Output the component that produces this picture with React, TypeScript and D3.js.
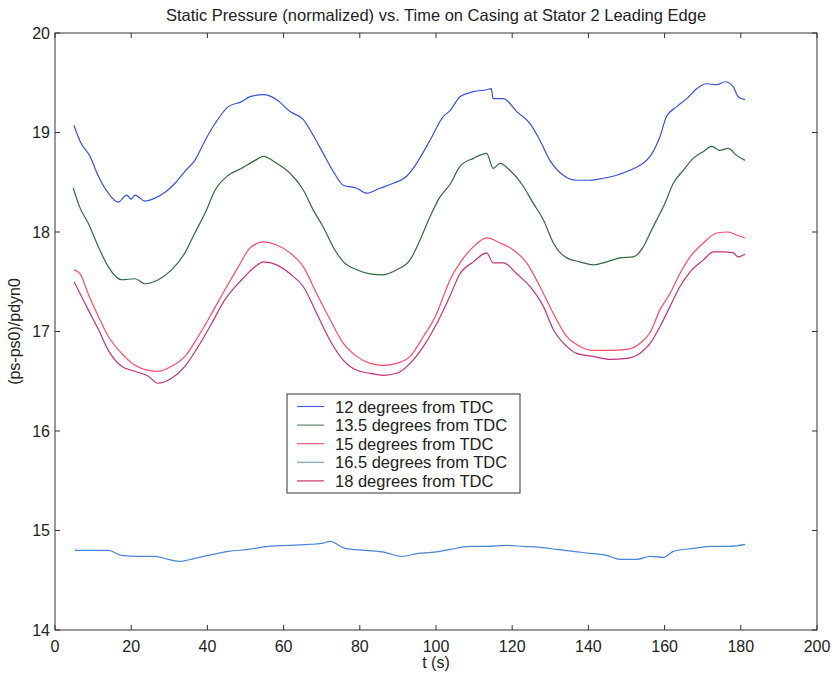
import React from "react";
import * as d3 from "d3";

const title = "Static Pressure (normalized) vs. Time on Casing at Stator 2 Leading Edge";
const xLabel = "t (s)";
const yLabel = "(ps-ps0)/pdyn0";
const xTicks = [0, 20, 40, 60, 80, 100, 120, 140, 160, 180, 200];
const yTicks = [14, 15, 16, 17, 18, 19, 20];
const seriesNames = [
  "12 degrees from TDC",
  "13.5 degrees from TDC",
  "15 degrees from TDC",
  "16.5 degrees from TDC",
  "18 degrees from TDC",
];
const seriesColors = ["#3552dc", "#2f6a3e", "#ff4a68", "#4a85d4", "#c4307e"];
const legendColors = ["#4a5ee0", "#5e8a6c", "#ff5a7a", "#7fa0b8", "#c8306e"];

const t12 = [5.0, 6.6, 9.2, 11.4, 14, 16.6, 18.8, 20, 21, 23.6, 26.2, 28.9, 31.5, 34.1, 36.7, 39.4, 42, 45.5, 49, 51.2, 54.7, 58.2, 61.7, 65.2, 67.8, 70.4, 73, 75.7, 79.2, 81.8, 85.3, 88.8, 92.3, 94.9, 98.4, 101.9, 103.7, 106.3, 109.8, 113.3, 114.5, 115, 117.7, 121.2, 124.7, 127.3, 129.9, 133.4, 136.9, 140.4, 143.9, 147.4, 150.9, 153.5, 156.2, 158.8, 160.5, 163.2, 165.8, 168.4, 171, 173.7, 175.9, 178, 179.3, 181.1];
const v12 = [19.07, 18.91, 18.76, 18.56, 18.39, 18.30, 18.37, 18.33, 18.37, 18.31, 18.34, 18.40, 18.49, 18.61, 18.72, 18.92, 19.09, 19.26, 19.31, 19.36, 19.38, 19.33, 19.21, 19.13, 18.97, 18.79, 18.61, 18.47, 18.44, 18.39, 18.44, 18.49, 18.56, 18.69, 18.92, 19.16, 19.22, 19.36, 19.41, 19.43, 19.44, 19.34, 19.34, 19.21, 19.09, 18.92, 18.72, 18.57, 18.52, 18.52, 18.54, 18.57, 18.62, 18.67, 18.76, 18.96, 19.16, 19.26, 19.34, 19.44, 19.49, 19.48, 19.51, 19.46, 19.36, 19.33];

const t135 = [4.8, 6.6, 8.7, 11.4, 14, 17.5, 21, 23.6, 27.1, 30.6, 34.1, 36.7, 39.4, 42, 45.5, 49, 52.5, 54.7, 58.2, 61.7, 65.2, 67.8, 70.4, 73, 75.7, 79.2, 82.7, 86.2, 89.7, 93.2, 95.8, 98.4, 101, 103.7, 106.3, 109.8, 113.3, 115, 116.8, 119.4, 122.9, 125.5, 128.2, 130.8, 134.3, 137.8, 141.3, 144.8, 148.3, 151.8, 154.4, 156.2, 157.9, 160.1, 162.3, 164.9, 167.5, 170.2, 172.4, 174.5, 176.7, 178.9, 181.1];
const v135 = [18.44, 18.24, 18.09, 17.85, 17.65, 17.52, 17.53, 17.48, 17.52, 17.62, 17.79, 17.99, 18.19, 18.42, 18.57, 18.64, 18.72, 18.76, 18.69, 18.59, 18.42, 18.22, 18.05, 17.85, 17.70, 17.62, 17.58, 17.57, 17.62, 17.72, 17.92, 18.15, 18.35, 18.48, 18.66, 18.74, 18.79, 18.64, 18.69, 18.62, 18.46, 18.29, 18.12, 17.89, 17.74, 17.70, 17.67, 17.70, 17.74, 17.75, 17.85, 17.99, 18.12, 18.29, 18.49, 18.62, 18.74, 18.81, 18.86, 18.82, 18.84, 18.77, 18.72];

const t15 = [5, 6.6, 8.7, 11.4, 14, 17.5, 21, 24.5, 27.1, 30.6, 34.1, 37.6, 41.1, 44.6, 48.1, 51.2, 54.7, 58.2, 61.7, 65.2, 68.7, 72.2, 75.7, 79.2, 82.7, 86.2, 89.7, 93.2, 96.7, 100.2, 101.9, 103.7, 106.3, 109.8, 113.3, 116.8, 120.3, 123.8, 127.3, 130.8, 134.3, 137.8, 141.3, 145.7, 150, 153.5, 156.2, 158.8, 161.4, 164, 166.7, 170.2, 173.7, 176.7, 178.9, 181.1];
const v15 = [17.62, 17.58, 17.38, 17.15, 16.95, 16.78, 16.66, 16.61, 16.60, 16.65, 16.75, 16.95, 17.18, 17.42, 17.65, 17.84, 17.90, 17.87, 17.79, 17.65, 17.38, 17.12, 16.88, 16.75, 16.68, 16.66, 16.68, 16.75, 16.95, 17.18, 17.35, 17.52, 17.69, 17.85, 17.94, 17.89, 17.82, 17.69, 17.45, 17.18, 16.95, 16.85, 16.81, 16.81, 16.82, 16.88, 16.99, 17.22, 17.38, 17.58, 17.75, 17.89, 17.99, 18.00, 17.97, 17.94];

const t165 = [5.2, 8.7, 14, 17.5, 21.9, 26.2, 29.7, 32.8, 36.7, 40.2, 45.5, 50.7, 56, 61.2, 66.5, 70, 72.2, 76.1, 81.4, 86.6, 91, 95.4, 98.9, 103.7, 108.9, 113.3, 118.6, 122.9, 127.3, 131.7, 136, 140.4, 144.8, 148.3, 152.7, 156.2, 159.7, 162.3, 167.5, 172.8, 177.2, 181.1];
const v165 = [14.80, 14.80, 14.80, 14.75, 14.74, 14.74, 14.71, 14.69, 14.72, 14.75, 14.79, 14.81, 14.84, 14.85, 14.86, 14.87, 14.89, 14.82, 14.80, 14.78, 14.74, 14.77, 14.78, 14.81, 14.84, 14.84, 14.85, 14.84, 14.83, 14.81, 14.79, 14.77, 14.75, 14.71, 14.71, 14.74, 14.73, 14.79, 14.82, 14.84, 14.84, 14.86];

const t18 = [5, 6.6, 8.7, 11.4, 14, 17.5, 21, 24.5, 27, 30.6, 34.1, 37.6, 41.1, 44.6, 49, 52.5, 54.7, 58.2, 61.7, 65.2, 68.7, 72.2, 75.7, 79.2, 82.7, 86.2, 89.7, 93.2, 96.7, 100.2, 103.7, 106.3, 109.8, 113.3, 115, 117.7, 121.2, 124.7, 128.2, 130.8, 134.3, 136.9, 141.3, 145.7, 150, 153.5, 156.2, 158.8, 161.4, 164, 166.7, 170.2, 172.8, 175.4, 178, 179.3, 181.1];
const v18 = [17.50, 17.38, 17.22, 17.02, 16.81, 16.65, 16.60, 16.55, 16.48, 16.53, 16.65, 16.85, 17.08, 17.32, 17.52, 17.65, 17.70, 17.67, 17.58, 17.45, 17.18, 16.91, 16.71, 16.61, 16.58, 16.56, 16.58, 16.68, 16.85, 17.08, 17.36, 17.58, 17.70, 17.79, 17.69, 17.69, 17.58, 17.45, 17.25, 17.02, 16.85, 16.78, 16.75, 16.72, 16.73, 16.78, 16.88, 17.05, 17.25, 17.45, 17.60, 17.72, 17.80, 17.80, 17.79, 17.75, 17.78];

const seriesT = [t12, t135, t15, t165, t18];
const seriesV = [v12, v135, v15, v165, v18];

const W = 836;
const H = 676;
const margin = { left: 55, right: 19, top: 33, bottom: 46 };
const font = "'Liberation Sans', Arial, Helvetica, sans-serif";
const axisColor = "#333";

export default function App() {
  const x = d3.scaleLinear().domain([0, 200]).range([margin.left, W - margin.right]);
  const y = d3.scaleLinear().domain([14, 20]).range([H - margin.bottom, margin.top]);
  const line = d3
    .line<[number, number]>()
    .x((d) => x(d[0]))
    .y((d) => y(d[1]))
    .curve(d3.curveMonotoneX);

  const x0 = x(0), x1 = x(200), y0 = y(14), y1 = y(20);
  const tl = 5;
  const drawOrder = [3, 4, 2, 1, 0];

  const legX = 287, legY = 394, legW = 233, legH = 99, rowH = 18.6;

  return (
    <svg
      width={W}
      height={H}
      style={{ position: "absolute", left: 0, top: 0, background: "#fff" }}
      fontFamily={font}
    >
      <rect x={0} y={0} width={W} height={H} fill="#fff" />
      <text x={(x0 + x1) / 2} y={21} textAnchor="middle" fontSize={16.5} fill="#222">
        {title}
      </text>
      {drawOrder.map((i) => (
        <path
          key={i}
          d={line(seriesT[i].map((t, k) => [t, seriesV[i][k]] as [number, number])) || ""}
          fill="none"
          stroke={seriesColors[i]}
          strokeWidth={1.2}
          strokeLinejoin="round"
        />
      ))}
      <rect x={x0} y={y1} width={x1 - x0} height={y0 - y1} fill="none" stroke={axisColor} strokeWidth={1} />
      {xTicks.map((t) => (
        <g key={"xt" + t}>
          <line x1={x(t)} x2={x(t)} y1={y0} y2={y0 - tl} stroke={axisColor} />
          <line x1={x(t)} x2={x(t)} y1={y1} y2={y1 + tl} stroke={axisColor} />
          <text x={x(t)} y={y0 + 22} textAnchor="middle" fontSize={16} fill="#222">
            {t}
          </text>
        </g>
      ))}
      {yTicks.map((v) => (
        <g key={"yt" + v}>
          <line x1={x0} x2={x0 + tl} y1={y(v)} y2={y(v)} stroke={axisColor} />
          <line x1={x1} x2={x1 - tl} y1={y(v)} y2={y(v)} stroke={axisColor} />
          <text x={x0 - 5} y={y(v) + 5.5} textAnchor="end" fontSize={16} fill="#222">
            {v}
          </text>
        </g>
      ))}
      <text x={(x0 + x1) / 2} y={H - 8} textAnchor="middle" fontSize={16} fill="#222">
        {xLabel}
      </text>
      <text
        transform={`translate(20, ${(y0 + y1) / 2}) rotate(-90)`}
        textAnchor="middle"
        fontSize={16}
        fill="#222"
      >
        {yLabel}
      </text>
      <rect x={legX} y={legY} width={legW} height={legH} fill="#fff" stroke={axisColor} strokeWidth={1} />
      {seriesNames.map((name, i) => (
        <g key={"lg" + i}>
          <line
            x1={legX + 10}
            x2={legX + 37}
            y1={legY + 12.5 + i * rowH}
            y2={legY + 12.5 + i * rowH}
            stroke={legendColors[i]}
            strokeWidth={1.2}
          />
          <text x={legX + 48} y={legY + 18.5 + i * rowH} fontSize={16.5} fill="#222">
            {name}
          </text>
        </g>
      ))}
    </svg>
  );
}
